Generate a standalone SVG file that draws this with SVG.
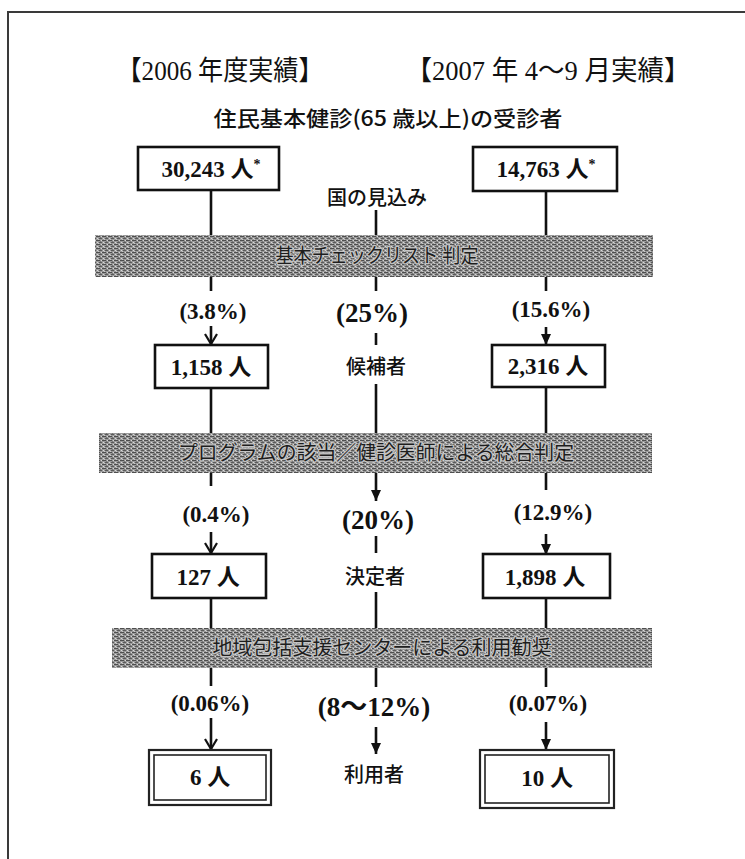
<svg xmlns="http://www.w3.org/2000/svg" width="745" height="859" viewBox="0 0 745 859">
<style>
  .frame{fill:none;stroke:#3a3a3a;stroke-width:2}
  .box{fill:#fff;stroke:#111;stroke-width:2.6}
  .box2o{fill:#fff;stroke:#222;stroke-width:2.2}
  .box2i{fill:none;stroke:#222;stroke-width:1.6}
  .ln{stroke:#111;stroke-width:2.6;fill:none}
  .band{fill:url(#halftone)}
  .hdr{font-family:"Liberation Serif","Noto Sans CJK JP",serif;font-size:27px;fill:#111;text-anchor:middle}
  .sub{font-family:"Noto Sans CJK JP","Noto Sans",sans-serif;font-size:21px;font-weight:500;fill:#111;text-anchor:middle}
  .num{font-family:"Liberation Serif","Noto Sans CJK JP",serif;font-size:23px;font-weight:bold;fill:#111;text-anchor:middle}
  .pct{font-family:"Liberation Serif","Noto Sans CJK JP",serif;font-size:23px;font-weight:bold;fill:#111;text-anchor:middle}
  .pctb{font-family:"Liberation Serif","Noto Sans CJK JP",serif;font-size:27px;font-weight:bold;fill:#111;text-anchor:middle}
  .lbl{font-family:"Noto Sans CJK JP","Noto Sans",sans-serif;font-size:20px;font-weight:500;fill:#111;text-anchor:middle}
  .bt{font-family:"Noto Sans CJK JP","Noto Sans",sans-serif;font-size:20px;fill:#1e1e1e;text-anchor:middle;stroke:#c4c4c4;stroke-width:2.5;paint-order:stroke;stroke-linejoin:round}
</style>
<defs>
  <pattern id="halftone" width="6" height="4" patternUnits="userSpaceOnUse">
    <rect width="6" height="4" fill="#9a9a9a"/>
    <rect x="0" y="0" width="4" height="1" fill="#4e4e4e"/>
    <rect x="3" y="2" width="3" height="1" fill="#5a5a5a"/>
    <rect x="5" y="0" width="1" height="1" fill="#d6d6d6"/>
    <rect x="1" y="2" width="1" height="1" fill="#dadada"/>
    <rect x="2" y="3" width="1" height="1" fill="#c8c8c8"/>
    <rect x="4" y="1" width="1" height="1" fill="#777"/>
  </pattern>
  <marker id="vopen" viewBox="-1 -7 13 14" refX="10" refY="0" markerWidth="13" markerHeight="14" markerUnits="userSpaceOnUse" orient="auto">
    <path d="M0,-6 L10,0 L0,6" fill="none" stroke="#111" stroke-width="2.2"/>
  </marker>
  <marker id="tri" viewBox="0 -6 12 12" refX="11" refY="0" markerWidth="12" markerHeight="12" markerUnits="userSpaceOnUse" orient="auto">
    <path d="M0,-5 L11,0 L0,5 Z" fill="#111"/>
  </marker>
</defs>

<rect width="745" height="859" fill="#fff"/>
<path class="frame" d="M8,859 L8,12 L745,12"/>

<g id="headers">
  <text class="hdr" x="220" y="80" textLength="207" lengthAdjust="spacingAndGlyphs">【2006 年度実績】</text>
  <text class="hdr" x="548" y="80" textLength="285" lengthAdjust="spacingAndGlyphs">【2007 年 4〜9 月実績】</text>
  <text class="sub" x="388" y="126" textLength="349" lengthAdjust="spacingAndGlyphs">住民基本健診(65 歳以上)の受診者</text>
</g>

<g id="connectors">
  <!-- left column -->
  <line class="ln" x1="211" y1="190" x2="211" y2="236"/>
  <line class="ln" x1="211" y1="276" x2="211" y2="291"/>
  <line class="ln" x1="211" y1="326" x2="211" y2="344" marker-end="url(#vopen)"/>
  <line class="ln" x1="211" y1="388" x2="211" y2="434"/>
  <line class="ln" x1="211" y1="472" x2="211" y2="486"/>
  <line class="ln" x1="211" y1="532" x2="211" y2="553" marker-end="url(#vopen)"/>
  <line class="ln" x1="211" y1="598" x2="211" y2="629"/>
  <line class="ln" x1="211" y1="668" x2="211" y2="686"/>
  <line class="ln" x1="211" y1="718" x2="211" y2="749" marker-end="url(#vopen)"/>
  <!-- centre column -->
  <line class="ln" x1="376" y1="210" x2="376" y2="236"/>
  <line class="ln" x1="376" y1="276" x2="376" y2="291"/>
  <line class="ln" x1="376" y1="333" x2="376" y2="345"/>
  <line class="ln" x1="376" y1="384" x2="376" y2="434"/>
  <line class="ln" x1="376" y1="472" x2="376" y2="501" marker-end="url(#tri)"/>
  <line class="ln" x1="376" y1="536" x2="376" y2="553"/>
  <line class="ln" x1="376" y1="592" x2="376" y2="629"/>
  <line class="ln" x1="376" y1="668" x2="376" y2="687"/>
  <line class="ln" x1="376" y1="727" x2="376" y2="754" marker-end="url(#tri)"/>
  <!-- right column -->
  <line class="ln" x1="546" y1="191" x2="546" y2="236"/>
  <line class="ln" x1="546" y1="276" x2="546" y2="291"/>
  <line class="ln" x1="546" y1="327" x2="546" y2="345" marker-end="url(#tri)"/>
  <line class="ln" x1="546" y1="387" x2="546" y2="434"/>
  <line class="ln" x1="546" y1="472" x2="546" y2="490"/>
  <line class="ln" x1="546" y1="534" x2="546" y2="555" marker-end="url(#tri)"/>
  <line class="ln" x1="546" y1="598" x2="546" y2="629"/>
  <line class="ln" x1="546" y1="668" x2="546" y2="687"/>
  <line class="ln" x1="546" y1="722" x2="546" y2="750" marker-end="url(#tri)"/>
</g>

<g id="band1">
  <rect class="band" x="95" y="235" width="558" height="42"/>
  <text class="bt" x="377" y="263" textLength="203" lengthAdjust="spacingAndGlyphs">基本チェックリスト 判定</text>
</g>
<g id="band2">
  <rect class="band" x="99" y="433" width="553" height="40"/>
  <text class="bt" x="376" y="460" textLength="396" lengthAdjust="spacingAndGlyphs">プログラムの該当／健診医師による総合判定</text>
</g>
<g id="band3">
  <rect class="band" x="112" y="628" width="540" height="40"/>
  <text class="bt" x="382" y="655" textLength="339" lengthAdjust="spacingAndGlyphs">地域包括支援センターによる利用勧奨</text>
</g>

<g id="n-30243">
  <rect class="box" x="138" y="147" width="141" height="43"/>
  <text class="num" x="211" y="177">30,243 人<tspan font-size="14" dy="-8">*</tspan></text>
</g>
<g id="n-14763">
  <rect class="box" x="473" y="147" width="144" height="44"/>
  <text class="num" x="546" y="177">14,763 人<tspan font-size="14" dy="-8">*</tspan></text>
</g>
<g id="n-mikomi">
  <text class="lbl" x="377" y="205">国の見込み</text>
</g>

<g id="p-38"><text class="pct" x="213" y="319">(3.8%)</text></g>
<g id="p-25"><text class="pctb" x="372" y="322">(25%)</text></g>
<g id="p-156"><text class="pct" x="551" y="317">(15.6%)</text></g>

<g id="n-1158">
  <rect class="box" x="155" y="345" width="113" height="43"/>
  <text class="num" x="211" y="375">1,158 人</text>
</g>
<g id="n-kouho">
  <text class="lbl" x="376" y="374">候補者</text>
</g>
<g id="n-2316">
  <rect class="box" x="492" y="345" width="113" height="42"/>
  <text class="num" x="548" y="374">2,316 人</text>
</g>

<g id="p-04"><text class="pct" x="216" y="522">(0.4%)</text></g>
<g id="p-20"><text class="pctb" x="378" y="529">(20%)</text></g>
<g id="p-129"><text class="pct" x="553" y="520">(12.9%)</text></g>

<g id="n-127">
  <rect class="box" x="152" y="554" width="114" height="44"/>
  <text class="num" x="208" y="585">127 人</text>
</g>
<g id="n-kettei">
  <text class="lbl" x="375" y="584">決定者</text>
</g>
<g id="n-1898">
  <rect class="box" x="483" y="554" width="127" height="44"/>
  <text class="num" x="545" y="585">1,898 人</text>
</g>

<g id="p-006"><text class="pct" x="210" y="711">(0.06%)</text></g>
<g id="p-812"><text class="pctb" x="374" y="716">(8〜12%)</text></g>
<g id="p-007"><text class="pct" x="548" y="711">(0.07%)</text></g>

<g id="n-6">
  <rect class="box2o" x="149" y="750" width="122" height="55"/>
  <rect class="box2i" x="154" y="755" width="112" height="45"/>
  <text class="num" x="210" y="785">6 人</text>
</g>
<g id="n-riyou">
  <text class="lbl" x="374" y="782">利用者</text>
</g>
<g id="n-10">
  <rect class="box2o" x="480" y="750" width="134" height="58"/>
  <rect class="box2i" x="485" y="755" width="124" height="48"/>
  <text class="num" x="547" y="786">10 人</text>
</g>
</svg>
